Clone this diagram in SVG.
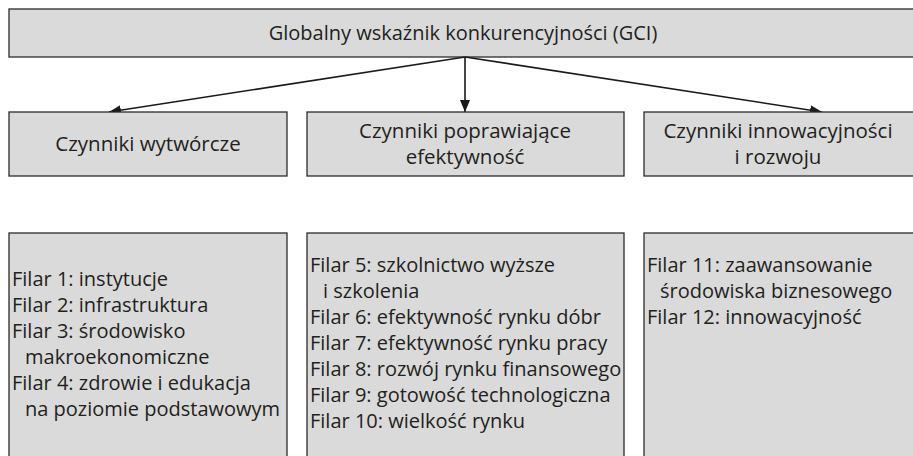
<svg xmlns="http://www.w3.org/2000/svg" width="913" height="456" viewBox="0 0 913 456">
<style>
.box{fill:#d9dad9;stroke:#2b2b2b;stroke-width:1.3}
.t{font-family:"Open Sans","Noto Sans",sans-serif;fill:#231f20}
.h{font-size:20.5px;text-anchor:middle}
.top{font-size:20px;text-anchor:middle}
.f{font-size:20px}
.conn{stroke:#1a1a1a;stroke-width:1.6;fill:none}
</style>
<defs>
<marker id="ah" viewBox="0 0 12 10" refX="12" refY="5" markerWidth="12" markerHeight="10" markerUnits="userSpaceOnUse" orient="auto">
<path d="M0,0 L12,5 L0,10 Z" fill="#1a1a1a"/>
</marker>
</defs>
<g id="gci">
<rect class="box" x="9" y="9" width="910" height="48"/>
<text class="t top" x="463" y="40">Globalny wskaźnik konkurencyjności (GCI)</text>
</g>
<g id="connectors">
<line class="conn" x1="465" y1="57" x2="109" y2="112" marker-end="url(#ah)"/>
<line class="conn" x1="465" y1="57" x2="465" y2="112" marker-end="url(#ah)"/>
<line class="conn" x1="465" y1="57" x2="822" y2="112" marker-end="url(#ah)"/>
</g>
<g id="c1">
<rect class="box" x="9" y="112" width="278" height="64"/>
<text class="t h" x="148" y="151">Czynniki wytwórcze</text>
</g>
<g id="c2">
<rect class="box" x="307" y="112" width="317" height="64"/>
<text class="t h" x="465" y="138">Czynniki poprawiające</text>
<text class="t h" x="465" y="164">efektywność</text>
</g>
<g id="c3">
<rect class="box" x="644" y="112" width="280" height="64"/>
<text class="t h" x="778" y="138">Czynniki innowacyjności</text>
<text class="t h" x="778" y="164">i rozwoju</text>
</g>
<g id="p1">
<rect class="box" x="9" y="233" width="278" height="240"/>
<text class="t f" x="12" y="285.5">Filar 1: instytucje</text>
<text class="t f" x="12" y="311.5">Filar 2: infrastruktura</text>
<text class="t f" x="12" y="337.5">Filar 3: środowisko</text>
<text class="t f" x="25" y="363.5">makroekonomiczne</text>
<text class="t f" x="12" y="389.5">Filar 4: zdrowie i edukacja</text>
<text class="t f" x="25" y="415.5">na poziomie podstawowym</text>
</g>
<g id="p2">
<rect class="box" x="307" y="233" width="317" height="240"/>
<text class="t f" x="310" y="271.5">Filar 5: szkolnictwo wyższe</text>
<text class="t f" x="323" y="297.5">i szkolenia</text>
<text class="t f" x="310" y="323.5">Filar 6: efektywność rynku dóbr</text>
<text class="t f" x="310" y="349.5">Filar 7: efektywność rynku pracy</text>
<text class="t f" x="310" y="375.5">Filar 8: rozwój rynku finansowego</text>
<text class="t f" x="310" y="401.5">Filar 9: gotowość technologiczna</text>
<text class="t f" x="310" y="427.5">Filar 10: wielkość rynku</text>
</g>
<g id="p3">
<rect class="box" x="644" y="233" width="280" height="240"/>
<text class="t f" x="647" y="271.5">Filar 11: zaawansowanie</text>
<text class="t f" x="660" y="297.5">środowiska biznesowego</text>
<text class="t f" x="647" y="323.5">Filar 12: innowacyjność</text>
</g>
</svg>
